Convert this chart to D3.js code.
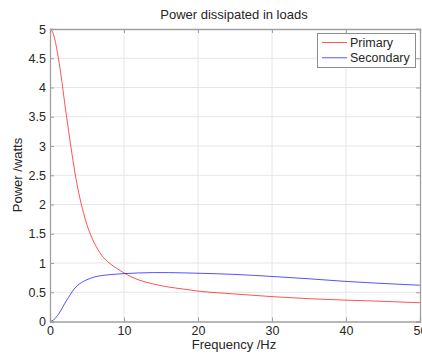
<!DOCTYPE html>
<html><head><meta charset="utf-8">
<script src="https://cdn.jsdelivr.net/npm/d3@7"></script>
<style>body{margin:0;background:#fff}svg{display:block}text{font-family:"Liberation Sans",Arial,sans-serif;fill:#262626}</style>
</head><body>
<script>
const freq      = [0,0.5,1,1.5,2,2.5,3,3.5,4,4.5,5,6,7,8,9,10,12,14,16,18,20,25,30,35,40,45,50];
const primary   = [5,4.9,4.6,4.2,3.72,3.27,2.84,2.45,2.13,1.87,1.65,1.34,1.13,1.0,0.91,0.83,0.71,0.64,0.59,0.555,0.52,0.47,0.425,0.39,0.365,0.345,0.32];
const secondary = [0,0.03,0.1,0.195,0.31,0.41,0.51,0.59,0.645,0.685,0.715,0.76,0.785,0.8,0.81,0.818,0.83,0.836,0.836,0.831,0.825,0.805,0.77,0.73,0.685,0.65,0.62];
const xTicks = [0,10,20,30,40,50];
const yTicks = [0,0.5,1,1.5,2,2.5,3,3.5,4,4.5,5];
const seriesNames = ["Primary","Secondary"];
const seriesColors = ["#ff0000","#0000ff"];

const W=422,H=354, L=50, R=420, T=29, B=321.5;
const svg=d3.select("body").append("svg").attr("width",W).attr("height",H);
const x=d3.scaleLinear().domain([0,50]).range([L,R]);
const y=d3.scaleLinear().domain([0,5]).range([B,T]);

// grid
svg.append("g").selectAll("line").data(xTicks.slice(1,-1)).join("line")
  .attr("x1",d=>x(d)).attr("x2",d=>x(d)).attr("y1",T).attr("y2",B)
  .attr("stroke","#e6e6e6").attr("stroke-width",1);
svg.append("g").selectAll("line").data(yTicks.slice(1,-1)).join("line")
  .attr("y1",d=>y(d)).attr("y2",d=>y(d)).attr("x1",L).attr("x2",R)
  .attr("stroke","#e6e6e6").attr("stroke-width",1);

// lines
const line=d3.line().x((d,i)=>x(freq[i])).y(d=>y(d)).curve(d3.curveMonotoneX);
[primary,secondary].forEach((s,k)=>{
  svg.append("path").datum(s).attr("d",line).attr("fill","none")
    .attr("stroke",seriesColors[k]).attr("stroke-width",0.8).attr("stroke-opacity",0.85);
});

// axes
const ax=svg.append("g");
ax.append("g").attr("transform",`translate(0,${B})`).call(d3.axisBottom(x).tickValues(xTicks).tickSize(-4).tickPadding(5));
ax.append("g").attr("transform",`translate(0,${T})`).call(d3.axisTop(x).tickValues(xTicks).tickSize(-4).tickFormat(""));
ax.append("g").attr("transform",`translate(${L},0)`).call(d3.axisLeft(y).tickValues(yTicks).tickSize(-4).tickPadding(4).tickFormat(d3.format("~g")));
ax.append("g").attr("transform",`translate(${R},0)`).call(d3.axisRight(y).tickValues(yTicks).tickSize(-4).tickFormat(""));
ax.selectAll(".domain").attr("stroke","#a0a0a0").attr("stroke-width",1.3);
ax.selectAll(".tick line").attr("stroke","#a0a0a0");
ax.selectAll(".tick text").style("font-family","'Liberation Sans',Arial,sans-serif").style("font-size","12.5px").attr("fill","#262626");

// title & labels
svg.append("text").attr("x",234).attr("y",19).attr("text-anchor","middle").style("font-size","13px").text("Power dissipated in loads");
svg.append("text").attr("x",234).attr("y",349).attr("text-anchor","middle").style("font-size","13px").text("Frequency /Hz");
svg.append("text").attr("transform","translate(22,175) rotate(-90)").attr("text-anchor","middle").style("font-size","13px").text("Power /watts");

// legend
const lg=svg.append("g");
lg.append("rect").attr("x",317.5).attr("y",33.5).attr("width",98).attr("height",34).attr("fill","#fff").attr("stroke","#8c8c8c").attr("stroke-width",1);
seriesNames.forEach((n,i)=>{
  const yy=42.5+i*15.3;
  lg.append("line").attr("x1",322).attr("x2",347).attr("y1",yy).attr("y2",yy).attr("stroke",seriesColors[i]).attr("stroke-width",0.8).attr("stroke-opacity",0.85);
  lg.append("text").attr("x",350).attr("y",yy+4.5).style("font-size","12.5px").text(n);
});
</script>
</body></html>
